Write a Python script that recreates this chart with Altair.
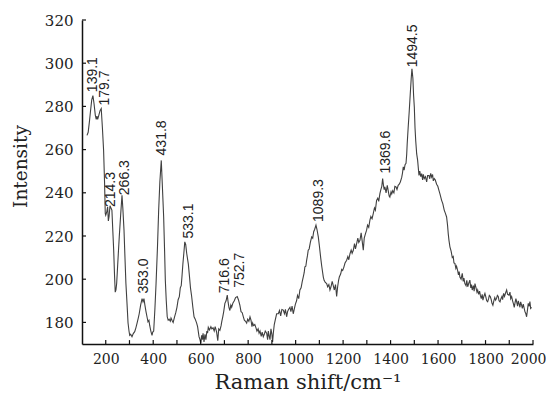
import altair as alt
import pandas as pd

# Raman spectrum: (Raman shift cm-1, intensity)
spectrum = [
    (121, 266.6), (126, 268), (131, 272.7), (136, 278), (141, 283), (146, 285), (151, 281),
    (156, 276), (160, 274), (163, 275.5), (166, 274), (171, 276), (176, 278), (181, 279),
    (186, 270), (191, 259.6), (195, 245), (198, 230.5), (200, 229.6), (204, 231), (208, 233.5),
    (211, 227), (214, 229), (218, 234), (222, 233), (226, 232), (230, 222), (233.5, 213.4),
    (237, 202), (240, 194), (243, 195), (246, 198), (251, 208), (257, 219.6), (263, 230),
    (268.5, 238.9), (272, 233), (277, 222.7), (281, 210), (285, 198), (290, 188), (294, 179.7),
    (298, 176), (301, 174), (305, 174.5), (310.6, 173.4), (316, 174.8), (322, 175.7), (327, 177.5),
    (332, 179.7), (337, 182), (341, 184), (347, 188), (353, 191), (357, 189.5), (361, 191),
    (365, 188), (369.6, 185), (374, 182.5), (378, 180.3), (382, 181), (385, 178.7), (390, 176),
    (395, 174), (398, 175.5), (402, 176), (407, 186), (412, 198), (418, 215), (423, 232),
    (428, 245), (434, 255), (439, 242), (444, 228.8), (448, 213), (451, 199.6), (455, 190),
    (459, 182.6), (463, 181), (467, 181.5), (472, 180.5), (475, 182), (479, 181), (484, 180),
    (490, 182.6), (495, 184.5), (500, 187), (505, 190.5), (510, 191.9), (514, 196), (518, 197),
    (521, 201), (525, 207), (529, 212), (533, 217.3), (537, 216), (541, 212), (548, 207),
    (553, 201), (557, 196), (562, 192), (567, 187), (572, 182.6), (577, 181.5), (583, 179.7),
    (587, 178), (593, 173.4), (597, 172), (600, 170.5), (604, 174), (607, 172), (610, 175),
    (614, 171), (618, 174.5), (622, 172), (626, 176), (629, 175), (632, 177.7), (637, 176.5),
    (643, 178), (647, 177), (652, 177.5), (657, 176), (661, 178), (667, 175.6), (672, 171.5),
    (676, 177), (681, 176.3), (686, 178.5), (689, 180.5), (693, 182.6), (697, 185), (702, 188.8),
    (707, 190), (712, 192.6), (716, 189), (719, 187), (723, 185.5), (727, 188), (730.5, 187),
    (736, 189), (741.6, 190), (747, 191.5), (754, 192), (759, 190.5), (765, 188), (770, 185),
    (775, 184.5), (779.7, 182.6), (784, 181), (789, 180.5), (793.7, 179.7), (798, 181.5),
    (803, 180.5), (807.7, 182.6), (812, 181), (816, 178), (819, 179.7), (823, 178.5), (828, 179),
    (833, 177.5), (837, 176), (842, 177), (846, 175), (850, 176), (855, 173.5), (859, 175.5),
    (863.7, 173.4), (868, 174.5), (872, 176), (878, 175), (882, 172), (885, 176), (888, 174),
    (892, 172), (896, 177), (900, 174.5), (903, 171), (906, 175), (910, 179), (914, 181),
    (920, 184), (927, 184), (932, 185.5), (937, 183), (942, 186), (948, 185.7), (953, 184),
    (957, 186), (962, 182.6), (966, 185), (970, 186), (976, 187), (980, 185), (985, 187.5),
    (990, 184), (994, 186), (999, 188.5), (1004, 190), (1008, 192.5), (1013, 191), (1018, 195),
    (1023, 196), (1028, 199), (1032, 201), (1036, 203), (1039, 205.7), (1043, 206),
    (1046.5, 208.8), (1050, 211), (1053, 213.4), (1057, 214), (1062, 217), (1067.6, 219.6),
    (1072, 219), (1076, 222), (1080, 223), (1085.7, 225), (1090, 223), (1095.5, 219.6),
    (1100, 215.5), (1105.5, 210), (1110, 206), (1116.6, 201), (1120, 199.5), (1125, 198.5),
    (1130.7, 198), (1135, 196.5), (1140, 197.5), (1144.6, 195), (1149, 196.5), (1154, 199),
    (1158.6, 197), (1163, 195), (1168, 197.5), (1172.8, 192), (1177, 196.5), (1181, 199.5),
    (1184, 201), (1190, 202.5), (1194, 204.5), (1198, 204), (1203, 205.5), (1208, 207.5),
    (1215, 208.8), (1220, 210.5), (1224, 209), (1229, 211.8), (1234, 213.5), (1238, 212),
    (1243, 213.4), (1248, 216.5), (1252, 214), (1257, 216.5), (1262, 219), (1266, 217),
    (1271, 218), (1276, 221.5), (1280, 218), (1285, 213.4), (1289, 219), (1294, 221),
    (1299, 222.7), (1303, 225), (1308, 224), (1313, 227.3), (1317, 229), (1322, 228),
    (1327, 230.4), (1332, 233), (1336, 232), (1341, 236.5), (1346, 237.5), (1350, 236),
    (1355, 239.6), (1359, 241.5), (1363, 243), (1366.6, 246.6), (1370, 243.5), (1373, 241.5),
    (1376, 242.7), (1381, 240), (1386, 243.4), (1390, 241), (1394, 238.5), (1397, 238),
    (1402, 240.5), (1405, 239.5), (1409, 241), (1414, 240), (1418, 243), (1423, 242.7),
    (1427, 241.5), (1432, 243.5), (1436.6, 244), (1441, 245), (1446.7, 247), (1450, 249),
    (1453.5, 252), (1457, 250.5), (1461, 253), (1465, 253.6), (1468, 258), (1470, 262.7),
    (1474, 270), (1478.7, 278), (1483, 286), (1487, 293), (1490, 297.4), (1494, 293),
    (1497, 285), (1500, 279.7), (1503, 270), (1506, 264), (1510, 258), (1514, 255),
    (1519.6, 248), (1523, 250), (1527, 247.5), (1531, 248.9), (1535, 246), (1538, 248.5),
    (1542, 246.6), (1547, 247.5), (1552, 245), (1556, 248), (1561.7, 248), (1565, 246.5),
    (1569, 249), (1573, 247.3), (1577, 248.5), (1580, 245.5), (1584, 246.6), (1588, 246),
    (1594, 244), (1599, 243), (1604, 241), (1608, 239.5), (1615, 236.5), (1620, 235),
    (1626, 232), (1631, 230.5), (1636, 228.8), (1640, 225), (1643, 221), (1646, 218),
    (1650, 215), (1655, 213), (1660, 210), (1664, 210.5), (1667, 207.5), (1671, 207.3),
    (1675, 205), (1678, 206), (1682.6, 204), (1686, 202), (1689, 203.5), (1692, 201),
    (1697, 200), (1702, 202.7), (1706, 199), (1709, 200.5), (1713, 198), (1718, 197),
    (1721, 199.5), (1725, 196.5), (1729, 198), (1734, 199.6), (1738, 196), (1741, 197.5),
    (1744, 195), (1749, 197), (1752, 194.5), (1755.5, 198), (1760, 196), (1764, 194),
    (1767, 195), (1771, 193), (1775, 194.5), (1778, 192.6), (1782, 191), (1786, 193),
    (1789, 190.3), (1793, 192), (1797.5, 193.4), (1802, 191.5), (1805, 190), (1809, 189.6),
    (1813, 191), (1816, 192.5), (1820, 192), (1824, 190.5), (1827, 189), (1831, 188),
    (1835, 190), (1839, 191.5), (1842.6, 190.3), (1846, 191), (1850, 192.5), (1853.6, 192),
    (1857, 190), (1861, 189.5), (1865, 191), (1869, 192), (1872, 190.5), (1876, 193.4),
    (1880, 192), (1884, 193.5), (1889, 195), (1893, 193), (1898.7, 192.6), (1903, 194),
    (1906, 191), (1910, 192), (1914, 190), (1918, 188.5), (1921, 187), (1925, 189.5),
    (1928, 191), (1931, 189.6), (1935, 187.5), (1938, 190), (1941, 188.8), (1945, 187),
    (1948, 189.5), (1952, 188), (1955, 186.5), (1959, 188.5), (1962, 187), (1966, 185),
    (1970, 184), (1973, 182.6), (1977, 186), (1980, 188.8), (1984, 187.5), (1987, 189.6),
    (1990, 186.5), (1994, 187),
]

# Peak annotations
peak_labels = ["139.1", "179.7", "214.3", "266.3", "353.0", "431.8", "533.1",
               "716.6", "752.7", "1089.3", "1369.6", "1494.5"]
label_shift = [148, 197, 222, 281, 363, 437, 549, 702, 766, 1098, 1380, 1496]
label_intensity = [286.6, 280.4, 233.4, 238.9, 193.4, 257.3, 218.8, 193.5, 196, 226.5, 248.9, 298.1]

# Axis values
x_label_values = [200, 400, 600, 800, 1000, 1200, 1400, 1600, 1800, 2000]
x_tick_values = [200, 300, 400, 500, 600, 700, 800, 900, 1000, 1100, 1200, 1300,
                 1400, 1500, 1600, 1700, 1800, 1900, 2000]
y_tick_values = [180, 200, 220, 240, 260, 280, 300, 320]

df = pd.DataFrame(spectrum, columns=["shift", "intensity"])
labels_df = pd.DataFrame({"text": peak_labels, "shift": label_shift, "intensity": label_intensity})
xt_df = pd.DataFrame({"shift": x_tick_values})
yt_df = pd.DataFrame({"intensity": y_tick_values})

xscale = alt.Scale(domain=[100, 2000], nice=False, zero=False)
yscale = alt.Scale(domain=[170, 320], nice=False, zero=False)

serif = "DejaVu Serif"

xaxis = alt.Axis(
    values=x_label_values, format="d", title="Raman shift/cm⁻¹", ticks=False, grid=False,
    labelFont=serif, labelFontSize=14, labelPadding=8, labelColor="#222",
    labelFlush=1, labelFlushOffset=13,
    titleFont=serif, titleFontSize=21, titleFontWeight="normal", titleColor="#222",
    titlePadding=5, domainColor="#111", domainWidth=1.5,
)
yaxis = alt.Axis(
    values=y_tick_values, format="d", title="Intensity", ticks=False, grid=False,
    labelFont=serif, labelFontSize=15, labelPadding=9, labelColor="#222",
    titleFont=serif, titleFontSize=18.5, titleFontWeight="normal", titleColor="#222",
    titleAngle=270, titleX=-62, titleY=146, titleAlign="center", titleBaseline="middle",
    domainColor="#111", domainWidth=1.5, labelFlush=False,
)

X = alt.X("shift:Q", scale=xscale, axis=xaxis)
Y = alt.Y("intensity:Q", scale=yscale, axis=yaxis)

line = alt.Chart(df).mark_line(color="#404040", strokeWidth=1.1, clip=True).encode(x=X, y=Y)

xticks = alt.Chart(xt_df).mark_rule(color="#111", strokeWidth=1.2).encode(
    x=X,
    y=alt.datum(170),
    y2=alt.datum(171.8),
)

yticks = alt.Chart(yt_df).mark_rule(color="#111", strokeWidth=1.2).encode(
    y=Y,
    x=alt.datum(100),
    x2=alt.datum(116.8),
)

texts = alt.Chart(labels_df).mark_text(
    angle=270, align="left", baseline="middle", font="Liberation Sans",
    fontSize=14, color="#222",
).encode(x=X, y=Y, text="text:N")

chart = alt.layer(line, xticks, yticks, texts).properties(
    width=451, height=324,
    autosize=alt.AutoSizeParams(type="none"),
    padding={"left": 74, "top": 12, "right": 13, "bottom": 50},
    background="white",
).configure_view(stroke=None)

chart.save("out.html", embed_options={"renderer": "svg", "actions": False})
